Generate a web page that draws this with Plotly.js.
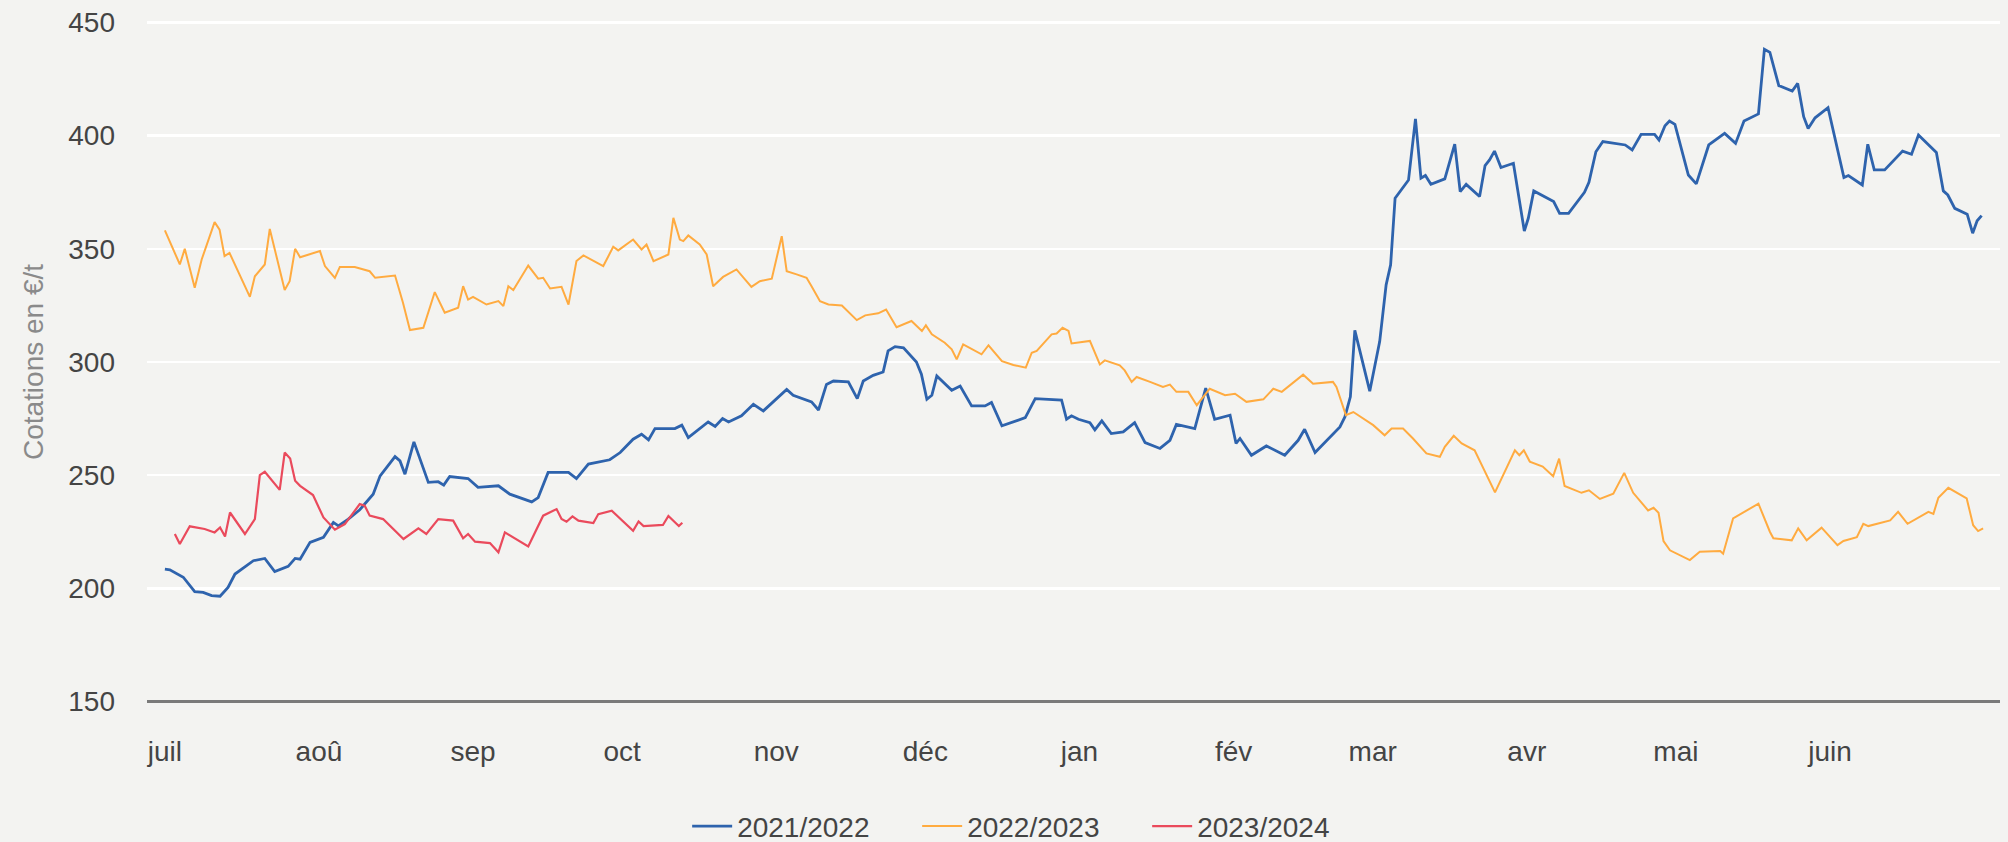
<!DOCTYPE html>
<html>
<head>
<meta charset="utf-8">
<script src="https://cdn.plot.ly/plotly-3.0.1.min.js"></script>
<style>html,body{margin:0;padding:0;background:#f3f3f1;}#chart{width:2008px;height:842px;}</style>
</head>
<body>
<div id="chart"></div>
<script>
// x = day of the marketing season (0 = 1 July)
const monthTickDays = [0, 31, 62, 92, 123, 153, 184, 215, 243, 274, 304, 335];
const monthTickLabels = ["juil", "aoû", "sep", "oct", "nov", "déc", "jan", "fév", "mar", "avr", "mai", "juin"];
const yTicks = [150, 200, 250, 300, 350, 400, 450];

const seriesNames = ["2021/2022", "2022/2023", "2023/2024"];

const days2122 = [0,1,3.7,6,7.7,9.4,11.1,12.7,14.1,17.8,20.1,22.1,24.8,26.2,27.2,29.2,31.9,33.9,34.9,36.9,39.2,41.9,43.3,46.3,47.3,48.3,50.1,53,55,56.1,57.3,61,63,67.1,69.4,73.8,75.1,77.1,81.2,82.8,85.2,89.5,91.6,94.2,95.9,97.3,98.6,102.6,104,105.3,109.3,110.7,112.2,113.4,116,118.4,120.4,125.1,126.4,130.1,131.5,133.1,134.5,137.5,139.3,140.5,142.5,144.5,145.5,146.9,148.6,151.2,152.2,153.3,154.3,155.3,158.3,160,162.3,165,166.3,168.4,173.1,175.1,180.4,181.4,182.4,183.8,186.1,187.1,188.5,190.4,192.8,195.1,197.2,200.2,202.2,203.5,207.2,209.4,211.2,214.3,215.5,216.3,218.6,221.6,225.3,228,229.3,231.4,236.4,237.4,238.5,239.4,242.4,244.4,245.7,246.6,247.5,250.2,251.6,252.7,253.6,254.7,257.5,259.5,260.6,261.8,264.5,265.6,266.5,267.5,268.8,271.3,273.5,274.3,275.4,279.4,280.6,282.4,285.6,286.5,287.9,289.3,293.8,295.2,297,299.7,300.6,301.8,302.7,303.8,306.5,308.1,310.6,313.8,316,317.7,320.6,321.8,322.9,324.7,327.4,328.5,329.7,330.6,332,334.6,337.8,338.7,341.5,342.6,343.9,346,349.6,351.4,352.8,356.4,357.8,358.7,360.1,362.6,363.7,364.6,365.5];
const vals2122 = [208.5,208.2,204.9,198.5,198.2,196.8,196.5,200.4,206.3,212.2,213.2,207.4,209.7,213.2,212.9,220.3,222.5,229.1,227.6,230.6,234.7,241.6,249.7,258.2,256.3,250.4,264.7,246.8,247.1,245.6,249.4,248.5,244.6,245.3,241.6,238.2,240.1,251.2,251.2,248.5,254.9,256.8,260,265.9,268.1,265.6,270.6,270.6,272.1,266.6,273.5,271.5,275,273.5,276.2,281.3,278.4,287.9,285.3,282.4,278.8,290.1,291.6,291.2,283.8,291.6,294.1,295.6,304.9,306.8,306.3,300,294.6,283.5,285.3,293.8,287.5,289.4,280.6,280.6,282.1,271.8,275.4,283.8,283.2,274.7,276.2,274.7,273.2,270,274,268.4,269.1,273.2,264.4,261.8,265.4,272.4,270.6,288.5,274.7,276.5,264,266.2,258.8,262.9,258.8,265.4,270.3,260,271.3,275.7,284.6,314,287.1,309,334.1,342.9,372.4,380.4,407.4,381.2,382.4,378.5,380.9,396.3,375.3,378.5,373.1,386.8,389.3,393.2,385.9,387.8,357.9,363.5,375.6,370.9,365.7,365.7,375,379.4,392.9,397.4,395.9,393.7,400.6,400.6,398.1,404.4,406.5,405,382.6,378.7,395.9,401,396.6,406.5,409.6,438.2,436.8,422.1,419.7,423.1,408.4,403.2,407.9,412.4,381.5,382.4,378.2,396.2,384.9,384.9,393.2,391.8,400.3,392.6,375.6,373.8,367.9,365.3,356.9,362.4,364.7];

const days2223 = [0,3,4,6,7.4,10,11,12,13,17.1,18.1,20.1,21.1,24.1,25.1,26.2,27.2,31.2,32.2,34.2,35.2,38.2,41.2,42.3,46.3,47.9,49.3,52,54.3,56.3,59,60,61,62,64.7,67.1,68.1,69.1,70.1,73.1,75.1,76.1,77.5,79.8,81.2,82.8,84.2,88.2,90.2,91.2,94.2,95.9,96.9,98.3,101.3,102.3,103.6,104.3,105.3,107.6,109,110.3,112.3,115,116.7,118,119.7,122.1,124.1,125.1,127.1,129.1,130.1,131.8,133.5,136.2,139.2,140.9,143.5,145.1,147.2,150.2,152.3,153.1,154.3,156.9,158.3,159.3,160.6,164.3,165.7,168.4,170.7,173.2,174.4,175.4,178.4,179.4,180.6,181.8,182.4,186.1,188.1,189.1,192.1,193.1,194.5,195.5,198.2,200.8,202.2,203.5,205.9,207.6,210.2,213.3,215.3,217.6,221,223,224.7,229,231,235,235.7,237.6,239.1,243.1,245.4,246.8,249.1,251.1,253.8,256.5,257.5,259.3,260.9,263.5,267.6,271.6,272.5,273.4,274.6,277.2,279.3,280.5,281.6,285,286.5,288.7,291.4,293.6,295.4,298.4,299.5,300.5,301.5,302.8,306.8,308.8,312.9,313.5,315.5,320.6,322.9,323.6,327.3,328.6,330.3,333.3,336.5,337.7,340.4,341.7,342.7,347.1,348.7,350.6,354.8,355.8,356.8,358.8,362.5,363.8,364.8,365.8];
const vals2223 = [358.2,343.1,350,332.8,345.3,361.8,358.5,346.8,348.2,328.8,337.9,343.1,358.8,331.8,335.7,350,346.3,349,342.4,337.2,342,342,340.1,337.2,338.2,326.2,314.1,315.1,330.9,321.8,324,333.5,327.6,328.8,325.4,326.9,324.7,333.5,331.8,342.6,336.8,337.2,332.5,333.2,325.4,344.6,347.1,342.4,350.9,349.3,354.1,349.7,351.9,344.6,347.5,363.7,354.1,353.4,355.9,351.9,347.5,333.5,337.6,340.9,336.5,333.2,335.7,336.8,355.6,340.1,338.7,337.2,333.5,326.9,325.4,325,318.5,320.6,321.5,323.2,315.4,318.1,313.7,316.2,312.2,308.5,305.6,301.2,307.8,303.4,307.4,300.4,298.7,297.5,304.1,304.9,312.2,312.6,315.1,313.7,308.2,309.3,298.9,300.7,298.5,296.3,291.2,293.4,291.2,289,290,286.8,286.8,280.9,288.2,285.3,286,282.4,283.5,288.2,286.8,294.4,290.4,291.2,289,276.5,277.9,272.1,267.6,270.6,270.6,266.2,259.6,258.1,262.5,267.4,264,261,242.4,261,258.8,261,256,253.8,249.5,257.3,245.2,242.2,243.3,239.5,241.8,251,242.2,234.4,235.6,233.4,220.9,216.8,212.5,216.2,216.5,215.3,230.9,237.4,225,222.1,221.2,226.5,221.2,226.8,219.1,220.9,222.6,228.5,227.5,230,233.8,228.5,233.8,232.9,240,244.4,239.7,227.9,225.3,226.5];

const days2324 = [2,3,5,8,10,11.1,12.1,13.1,16.1,18.1,19.1,20.1,23.1,24.1,25.2,26.2,27.2,29.8,31.9,34.2,36.2,39.2,40.2,41.2,43.9,48,51,52.6,55,58,60,61,62.4,65.4,67.1,68.4,73.1,76.1,78.8,79.8,80.8,82,83.2,86.2,87.2,89.9,94.2,95.3,96.3,100.2,101.3,103.4,104.1];
const vals2324 = [224,219.6,227.4,226.2,224.7,226.9,222.9,233.5,224,230.6,250,251.5,243.5,260,257.4,247.5,245.3,241.2,231.3,225.9,228.4,237.2,236.5,232.1,230.6,221.8,226.5,224,230.6,229.9,222.1,224,220.6,220,215.9,224.7,218.5,232.1,235,230.6,229.4,231.8,229.9,228.8,232.8,234.3,225.4,229.5,227.5,228,232,227.5,229];

const colors = ["#2e63ad", "#ffab40", "#ea4a5c"];
const widths = [2.8, 2, 2.2];

const traces = [
  {x: days2122, y: vals2122},
  {x: days2223, y: vals2223},
  {x: days2324, y: vals2324}
].map((t, i) => ({
  type: "scatter", mode: "lines", x: t.x, y: t.y, name: seriesNames[i],
  line: {color: colors[i], width: widths[i], shape: "linear"},
  hoverinfo: "skip"
}));

const font = "Liberation Sans, Arial, Helvetica, sans-serif";
const layout = {
  width: 2008, height: 842,
  margin: {l: 147, r: 8, t: 17.5, b: 135.5, pad: 0, autoexpand: false},
  paper_bgcolor: "#f3f3f1", plot_bgcolor: "#f3f3f1",
  font: {family: font, size: 28, color: "#444"},
  showlegend: true,
  legend: {
    orientation: "h", x: 0.2915, xanchor: "left", y: -0.175, yanchor: "middle",
    font: {family: font, size: 28, color: "#444"},
    bgcolor: "rgba(0,0,0,0)", entrywidth: 175, entrywidthmode: "pixels", itemwidth: 40,
    traceorder: "normal"
  },
  xaxis: {
    range: [-3.6, 369.2], tickmode: "array", tickvals: monthTickDays, ticktext: monthTickLabels,
    showgrid: false, zeroline: false, showline: false, ticks: "",
    tickfont: {family: font, size: 28, color: "#444"}, ticklabelstandoff: 26,
    automargin: false, fixedrange: true
  },
  yaxis: {
    range: [148, 452], tickmode: "array", tickvals: yTicks,
    showgrid: true, gridcolor: "#ffffff", gridwidth: 2.5, zeroline: false, showline: false, ticks: "",
    tickfont: {family: font, size: 28, color: "#444"}, ticklabelstandoff: 31,
    title: {text: "Cotations en €/t", font: {family: font, size: 28, color: "#8a8a8a"}, standoff: 16},
    automargin: false, fixedrange: true
  },
  shapes: [{
    type: "line", xref: "paper", yref: "y", x0: 0, x1: 1, y0: 150, y1: 150,
    line: {color: "#7a7a7a", width: 3}
  }]
};

Plotly.newPlot("chart", traces, layout, {displayModeBar: false, staticPlot: true});
</script>
</body>
</html>
